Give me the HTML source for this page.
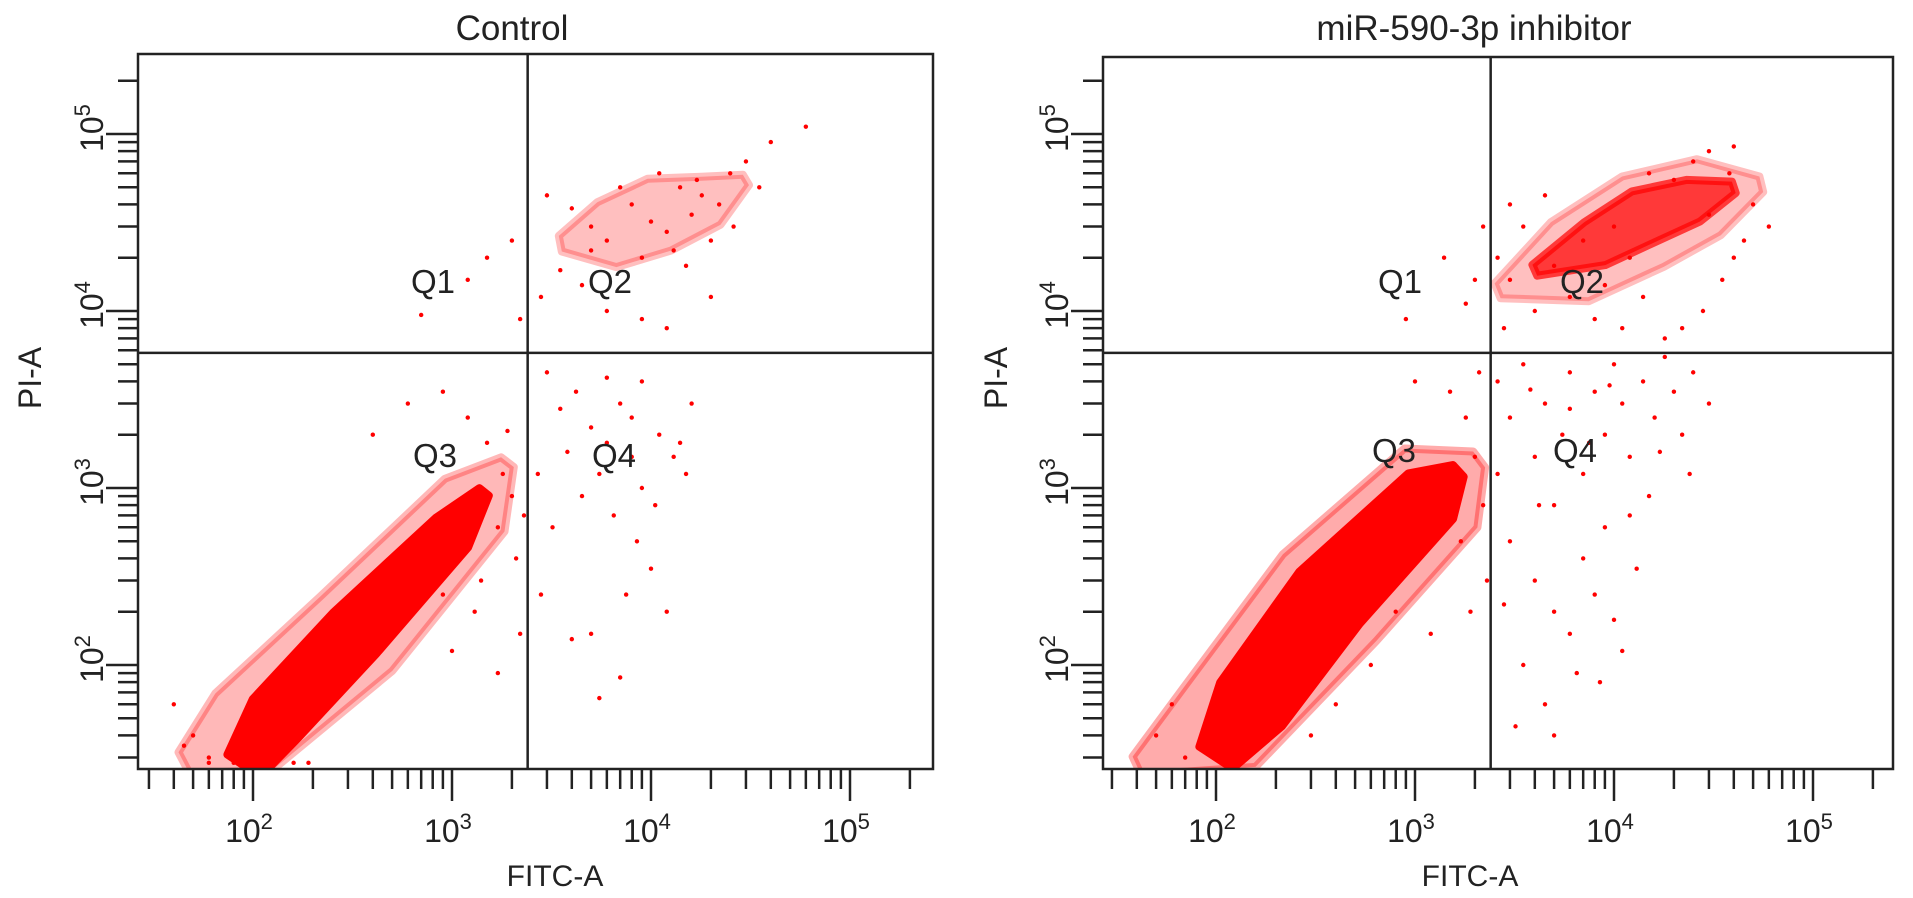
<!DOCTYPE html>
<html><head><meta charset="utf-8"><style>
html,body{margin:0;padding:0;background:#fff;}
svg{display:block;font-family:"Liberation Sans",Arial,sans-serif;}
</style></head><body>
<svg id="chart" width="1913" height="898" viewBox="0 0 1913 898"></svg>
<script>
// ---- data ----
const panelTitles = ["Control", "miR-590-3p inhibitor"];
const quadrantLabels = ["Q1", "Q2", "Q3", "Q4"];
const xTickLabels = ["2", "3", "4", "5"];
const yTickLabels = ["2", "3", "4", "5"];
const gateX = [2400, 2400];
const gateY = [5800, 5800];
// dense population ridges (FITC, PI) with half-widths in decades
const leftCoreX = [90, 130, 324, 1000, 1450];
const leftCoreY = [27, 50, 151, 560, 950];
const leftCoreW = [0.1, 0.15, 0.15, 0.11, 0.03];
const leftHaloX = [45, 90, 330, 1300, 1900];
const leftHaloY = [28, 42, 150, 800, 1400];
const leftHaloW = [0.06, 0.24, 0.26, 0.2, 0.04];
const leftQ2X = [3500, 6000, 11000, 20000, 30000];
const leftQ2Y = [24000, 27000, 35000, 42000, 55000];
const leftQ2W = [0.04, 0.17, 0.19, 0.13, 0.03];
const rightCoreX = [100, 150, 372, 1200, 1650];
const rightCoreY = [30, 60, 240, 900, 1250];
const rightCoreW = [0.1, 0.19, 0.2, 0.16, 0.04];
const rightHaloX = [40, 105, 372, 1350, 2100];
const rightHaloY = [27, 45, 240, 1000, 1450];
const rightHaloW = [0.05, 0.27, 0.32, 0.27, 0.05];
const rightQ2X = [4000, 8000, 14000, 25000, 40000];
const rightQ2Y = [17000, 24000, 34000, 42000, 50000];
const rightQ2W = [0.03, 0.12, 0.14, 0.11, 0.03];
const rightQ2HaloX = [2600, 6000, 14000, 30000, 55000];
const rightQ2HaloY = [13000, 19000, 32000, 44000, 52000];
const rightQ2HaloW = [0.04, 0.22, 0.25, 0.2, 0.04];
// sparse events
const leftPtsX = [3000,3500,4200,5000,6000,7000,8000,9000,11000,13000,15000,5500,4500,6500,8500,10000,7500,12000,3200,2800,5000,4000,7000,5500,9000,6000,16000,14000,3800,8000,10500,2700,
 3000,4000,5000,6000,8000,10000,12000,14000,16000,18000,20000,25000,30000,40000,60000,22000,9000,7000,11000,13000,15000,26000,35000,4500,6000,3500,12000,9000,2800,20000,5000,17000,
 1500,1200,2000,700,2200,
 1500,1800,2000,1200,900,600,400,1700,2100,1400,900,2200,1700,50,40,60,45,1000,1300,2300,1900,60,80,100,130,160,190];
const leftPtsY = [4500,2800,3500,2200,1800,3000,2500,4000,2000,1500,1200,1200,900,700,500,350,250,200,600,250,150,140,85,65,1000,4200,3000,1800,1600,1500,800,1200,
 45000,38000,30000,25000,40000,32000,28000,50000,35000,45000,25000,60000,70000,90000,110000,40000,20000,50000,60000,22000,18000,30000,50000,14000,10000,17000,8000,9000,12000,12000,22000,55000,
 20000,15000,25000,9500,9000,
 1800,1200,900,2500,3500,3000,2000,600,400,300,250,150,90,40,60,30,35,120,200,700,2100,28,28,28,28,28,28];
const rightPtsX = [2600,3000,3500,4000,4500,5000,5500,6000,7000,8000,9000,10000,11000,12000,14000,16000,18000,20000,22000,25000,3000,4000,5000,6000,7000,8000,9000,10000,12000,3500,4500,6500,2800,2600,15000,13000,11000,8500,5000,3200,7500,9500,4200,17000,30000,24000,6000,3800,
 2600,3000,3500,4000,5000,6000,7000,8000,9000,10000,12000,15000,20000,25000,30000,40000,50000,45000,35000,28000,22000,18000,14000,11000,40000,30000,3000,4500,2800,60000,38000,
 2200,1400,2000,900,1800,
 1800,2000,1500,2200,1700,2300,1900,1200,800,600,400,300,50,60,70,120,100,1400,2100,1000];
const rightPtsY = [4000,2500,5000,1500,3000,800,2000,4500,1200,3500,2000,5000,3000,1500,4000,2500,5500,3500,2000,4500,500,300,200,150,400,250,600,180,700,100,60,90,220,1200,900,350,120,80,40,45,1800,3800,800,1600,3000,1200,2800,3600,
 20000,15000,30000,10000,18000,12000,25000,9000,14000,30000,20000,60000,55000,70000,80000,85000,40000,25000,15000,10000,8000,7000,12000,8000,20000,35000,40000,45000,8000,30000,60000,
 30000,20000,15000,9000,11000,
 2500,1500,3500,800,500,300,200,150,200,100,60,40,40,60,30,30,50,1000,4500,4000];

// ---- layout ----
const panels = [
 {x0:138, x1:933, y0:54, y1:769, xo:253, titleX:512, axisTitleX:555, pyX:30, yLabX:92},
 {x0:1103, x1:1893, y0:57, y1:769, xo:1216, titleX:1474, axisTitleX:1470, pyX:996, yLabX:1057}
];
const DX = 199, DY = 177, YO = 665;
const svg = document.getElementById('chart');
const NS = 'http://www.w3.org/2000/svg';
function mk(tag, attrs, parent) {
  const e = document.createElementNS(NS, tag);
  for (const k in attrs) e.setAttribute(k, attrs[k]);
  (parent || svg).appendChild(e);
  return e;
}
function sx(p, v) { return p.xo + (Math.log10(v) - 2) * DX; }
function sy(v) { return YO - (Math.log10(v) - 2) * DY; }

function ridge(p, g, X, Y, W, opacity, name) {
  const P = X.map((v, i) => [sx(p, v), sy(Y[i])]);
  const left = [], right = [];
  for (let i = 0; i < P.length; i++) {
    const a = P[Math.max(0, i - 1)], b = P[Math.min(P.length - 1, i + 1)];
    let dx = b[0] - a[0], dy = b[1] - a[1];
    const L = Math.hypot(dx, dy) || 1;
    const nx = -dy / L, ny = dx / L, w = W[i] * DX;
    left.push([P[i][0] + nx * w, P[i][1] + ny * w]);
    right.push([P[i][0] - nx * w, P[i][1] - ny * w]);
  }
  const pts = left.concat(right.reverse()).map(q => q[0].toFixed(1) + ',' + q[1].toFixed(1)).join(' ');
  const poly = mk('polygon', {points: pts, fill: '#ff0000', 'fill-opacity': opacity, stroke: '#ff0000', 'stroke-opacity': opacity, 'stroke-width': 8, 'stroke-linejoin': 'round'}, g);
  
  
}

const ridgeSets = [
  [[leftHaloX, leftHaloY, leftHaloW, 0.28, 'halo-density'], [leftCoreX, leftCoreY, leftCoreW, 1, 'live-cell-density'], [leftQ2X, leftQ2Y, leftQ2W, 0.25, 'late-apoptotic-density']],
  [[rightHaloX, rightHaloY, rightHaloW, 0.33, 'halo-density'], [rightCoreX, rightCoreY, rightCoreW, 1, 'live-cell-density'], [rightQ2HaloX, rightQ2HaloY, rightQ2HaloW, 0.25, 'late-apoptotic-halo'], [rightQ2X, rightQ2Y, rightQ2W, 0.7, 'late-apoptotic-density']]
];
const ptSets = [[leftPtsX, leftPtsY], [rightPtsX, rightPtsY]];

panels.forEach((p, pi) => {
  const g = mk('g', {});
  
  
  const clip = mk('clipPath', {id: 'c' + pi}, g);
  mk('rect', {x: p.x0, y: p.y0, width: p.x1 - p.x0, height: p.y1 - p.y0}, clip);
  const dg = mk('g', {'clip-path': 'url(#c' + pi + ')'}, g);
  
  
  ridgeSets[pi].forEach(r => ridge(p, dg, r[0], r[1], r[2], r[3], r[4]));
  const [PX, PY] = ptSets[pi];
  for (let i = 0; i < PX.length; i++) {
    const c = mk('circle', {cx: sx(p, PX[i]), cy: sy(PY[i]), r: 2.2, fill: '#ff0000'}, dg);
    
    
  }
  const box = mk('rect', {x: p.x0, y: p.y0, width: p.x1 - p.x0, height: p.y1 - p.y0, fill: 'none', stroke: '#222', 'stroke-width': 2.5}, g);
  
  
  const vx = sx(p, gateX[pi]), hy = sy(gateY[pi]);
  const gv = mk('line', {x1: vx, x2: vx, y1: p.y0, y2: p.y1, stroke: '#222', 'stroke-width': 2.5}, g);
  
  
  const gh = mk('line', {x1: p.x0, x2: p.x1, y1: hy, y2: hy, stroke: '#222', 'stroke-width': 2.5}, g);
  
  
  for (let d = 1; d <= 5; d++) {
    for (let m = 1; m <= 9; m++) {
      const v = m * Math.pow(10, d);
      const x = sx(p, v);
      if (x >= p.x0 + 4 && x <= p.x1 - 4) {
        const t = mk('line', {x1: x, x2: x, y1: p.y1, y2: p.y1 + (m === 1 ? 32 : 20), stroke: '#222', 'stroke-width': 2.5}, g);
        
        
      }
      const y = sy(v);
      if (y >= p.y0 + 4 && y <= p.y1 - 4) {
        const t = mk('line', {x1: p.x0, x2: p.x0 - (m === 1 ? 32 : 20), y1: y, y2: y, stroke: '#222', 'stroke-width': 2.5}, g);
        
        
      }
    }
  }
  xTickLabels.forEach(e => {
    const x = sx(p, Math.pow(10, +e));
    const t = mk('text', {x: x - 4, y: 842, 'font-size': 32, 'text-anchor': 'middle', fill: '#222'}, g);
    t.innerHTML = '10<tspan dy="-13" font-size="22">' + e + '</tspan>';
    
    
  });
  yTickLabels.forEach(e => {
    const y = sy(Math.pow(10, +e));
    const t = mk('text', {x: 0, y: 0, 'font-size': 32, 'text-anchor': 'middle', fill: '#222', transform: 'translate(' + (p.yLabX + 11) + ',' + (y - 6) + ') rotate(-90)'}, g);
    t.innerHTML = '10<tspan dy="-13" font-size="22">' + e + '</tspan>';
    
    
  });
  const tt = mk('text', {x: p.titleX, y: 40, 'font-size': 35, 'text-anchor': 'middle', fill: '#222'}, g);
  tt.textContent = panelTitles[pi];
  
  
  const xt = mk('text', {x: p.axisTitleX, y: 886, 'font-size': 30, 'text-anchor': 'middle', fill: '#222'}, g);
  xt.textContent = 'FITC-A';
  
  
  const yt = mk('text', {x: 0, y: 0, 'font-size': 32, 'text-anchor': 'middle', fill: '#222', transform: 'translate(' + (p.pyX + 11) + ',378) rotate(-90)'}, g);
  yt.textContent = 'PI-A';
  
  
  const qpos = pi === 0 ? [[433,281],[610,281],[435,455],[614,455]] : [[1400,281],[1582,281],[1394,450],[1575,450]];
  quadrantLabels.forEach((q, qi) => {
    const t = mk('text', {x: qpos[qi][0], y: qpos[qi][1] + 12, 'font-size': 33, 'text-anchor': 'middle', fill: '#222'}, g);
    t.textContent = q;
    
    
  });
});
</script>
</body></html>
